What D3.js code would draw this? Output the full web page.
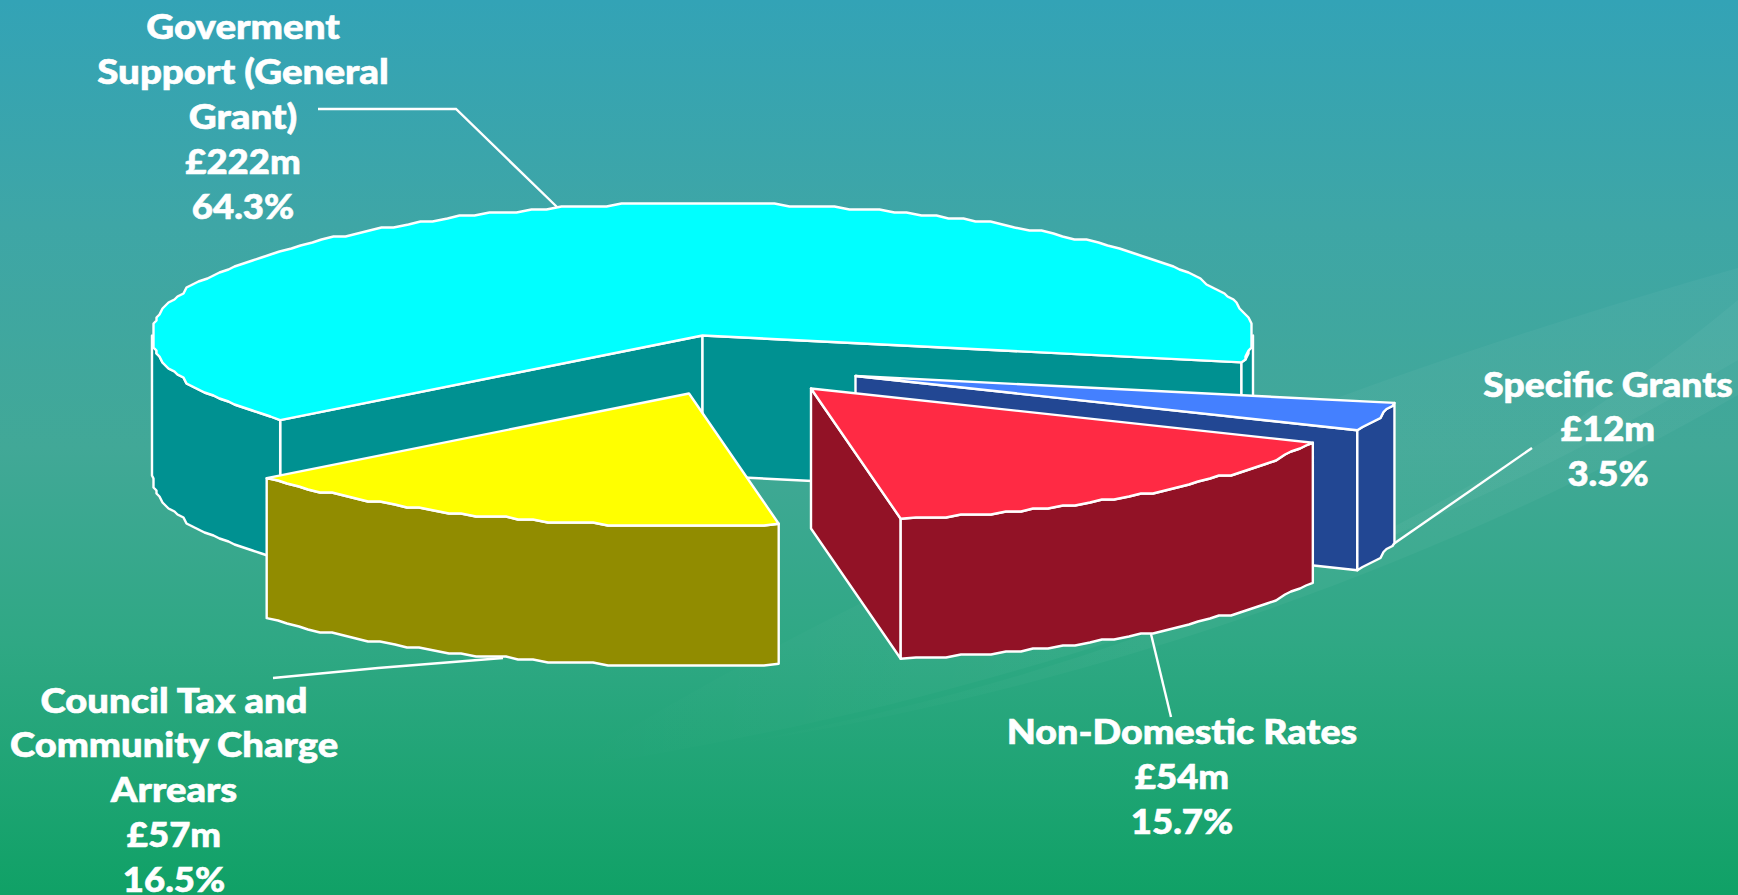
<!DOCTYPE html>
<html>
<head>
<meta charset="utf-8">
<script src="https://cdn.jsdelivr.net/npm/d3@7"></script>
<style>
  html, body { margin: 0; padding: 0; overflow: hidden; }
  svg { display: block; }
</style>
</head>
<body>
<div id="container"></div>
<script>
/* DATA */
const categories = ["Goverment Support (General Grant)", "Specific Grants", "Non-Domestic Rates", "Council Tax and Community Charge Arrears"];
const values = [222, 12, 54, 57];
const amounts = ["£222m", "£12m", "£54m", "£57m"];
const percents = ["64.3%", "3.5%", "15.7%", "16.5%"];
const wrappedNames = [
  ["Goverment", "Support (General", "Grant)"],
  ["Specific Grants"],
  ["Non-Domestic Rates"],
  ["Council Tax and", "Community Charge", "Arrears"]
];

/* CONSTANTS AND GLOBALS */
const width = 1738;
const height = 895;
const center = { x: 702.5, y: 335.5 };
const rx = 550.5;
const ry = 132;
const depth = 140;
const firstAngle = 230.1; // degrees clockwise from 12 o'clock, where the first slice starts
const rimStep = 1.6; // degrees between outline points, the original outline is coarse
const snap = 3;      // and its points sit on a rough grid

// how far each slice is pulled out, same order as categories
const explode = [[0, 0], [153, 40.5], [108.5, 53], [-13.5, 58]];
const topColors = ["#00ffff", "#4480ff", "#ff2a44", "#ffff00"];
const sideColors = ["#009191", "#224793", "#921226", "#918c00"];
const drawOrder = [0, 3, 1, 2];

// label placement: centre x, baseline of first line
const labelPos = [[243, 39], [1608, 396.5], [1182, 744], [174, 712.5]];
const lineGap = 44.9;
const nameStretch = [1.15, 1.11, 1.125, 1.14];
const numberStretch = 1.09;

const leaders = [
  [[318, 109], [456, 109], [557, 207]],
  [[1532, 448], [1392, 545]],
  [[1151, 634], [1171, 717]],
  [[273, 678], [378, 668], [503, 658]]
];

/* SCALES */
const xScale = d3.scaleLinear().domain([-1, 1]).range([-rx, rx]);
const yScale = d3.scaleLinear().domain([-1, 1]).range([-ry, ry]);

const pie = d3.pie()
  .sort(null)
  .startAngle(firstAngle * Math.PI / 180)
  .endAngle((firstAngle + 360) * Math.PI / 180);

const arcs = pie(values);

/* HELPERS */
const line = d3.line();

function onRim(t) {
  return [xScale(Math.cos(t)), yScale(Math.sin(t))];
}

// points along the rim between two angles, stepped like the original
function rim(a, b) {
  const pts = [onRim(a)];
  const n = Math.max(2, Math.round((b - a) / (rimStep * Math.PI / 180)));
  for (let i = 1; i < n; i++) {
    const p = onRim(a + (b - a) * i / n);
    pts.push([Math.round(p[0] / snap) * snap, Math.round(p[1] / snap) * snap]);
  }
  pts.push(onRim(b));
  return pts;
}

const down = p => [p[0], p[1] + depth];

/* HTML ELEMENTS */
const svg = d3.select("#container")
  .append("svg")
  .attr("width", width)
  .attr("height", height);

const defs = svg.append("defs");

// background
const grad = defs.append("linearGradient")
  .attr("id", "bg")
  .attr("x1", 0).attr("y1", 0).attr("x2", 0).attr("y2", 1);
[[0, "#33a3b6"], [0.25, "#3ea6a6"], [0.5, "#41a897"], [0.72, "#2fa884"], [1, "#10a166"]].forEach(s => {
  grad.append("stop").attr("offset", s[0]).attr("stop-color", s[1]);
});
svg.append("rect").attr("width", width).attr("height", height).attr("fill", "url(#bg)");

// faint swooshes, they fade out towards the left
const fade = defs.append("linearGradient")
  .attr("id", "fade")
  .attr("x1", 0).attr("y1", 0).attr("x2", 1).attr("y2", 0);
fade.append("stop").attr("offset", 0).attr("stop-color", "#fff").attr("stop-opacity", 0);
fade.append("stop").attr("offset", 0.45).attr("stop-color", "#fff").attr("stop-opacity", 1);

const swooshes = [
  "M560,770 C950,710 1350,590 1738,360 L1738,268 C1450,350 1000,500 560,770 Z",
  "M700,750 C1100,680 1450,540 1738,300 L1738,395 C1450,560 1100,690 700,750 Z"
];
svg.selectAll(".swoosh")
  .data(swooshes)
  .join("path")
  .attr("class", "swoosh")
  .attr("d", d => d)
  .attr("fill", "url(#fade)")
  .attr("opacity", 0.035);

// leader lines
svg.selectAll(".leader")
  .data(leaders)
  .join("path")
  .attr("class", "leader")
  .attr("d", d => line(d))
  .attr("fill", "none")
  .attr("stroke", "#fff")
  .attr("stroke-width", 2.4);

// slices
drawOrder.forEach(i => {
  const d = arcs[i];
  const a = d.startAngle - Math.PI / 2;
  const b = d.endAngle - Math.PI / 2;
  const g = svg.append("g")
    .attr("transform", `translate(${center.x + explode[i][0]},${center.y + explode[i][1]})`);

  const wall = pts => g.append("path")
    .attr("d", line(pts.concat(pts.map(down).reverse())) + "Z")
    .attr("fill", sideColors[i])
    .attr("stroke", "#fff")
    .attr("stroke-width", 2.4)
    .attr("stroke-linejoin", "round");

  // flat cut walls, only the ones facing the viewer
  if (Math.cos(a) < 0) wall([[0, 0], onRim(a)]);
  if (Math.cos(b) > 0) wall([[0, 0], onRim(b)]);

  // outer wall, only the front half of the rim
  [0, 1, 2].forEach(k => {
    const lo = Math.max(a, k * 2 * Math.PI);
    const hi = Math.min(b, k * 2 * Math.PI + Math.PI);
    if (hi > lo) wall(rim(lo, hi));
  });

  // top face
  g.append("path")
    .attr("d", line([[0, 0]].concat(rim(a, b))) + "Z")
    .attr("fill", topColors[i])
    .attr("stroke", "#fff")
    .attr("stroke-width", 2.4)
    .attr("stroke-linejoin", "round");
});

// labels, one text per line
categories.forEach((c, i) => {
  const names = wrappedNames[i];
  const lines = names.concat([amounts[i], percents[i]]);
  svg.selectAll(null)
    .data(lines)
    .join("text")
    .attr("class", "label")
    .attr("text-anchor", "middle")
    .attr("transform", (d, j) => {
      const sx = j < names.length ? nameStretch[i] : numberStretch;
      return `translate(${labelPos[i][0]},${labelPos[i][1] + j * lineGap}) scale(${sx},1)`;
    })
    .attr("font-family", "Lato, 'Open Sans', sans-serif")
    .attr("font-weight", 900)
    .attr("font-size", 33.5)
    .attr("fill", "#fff")
    .attr("stroke", "#fff")
    .attr("stroke-width", 0.6)
    .text(d => d);
});
</script>
</body>
</html>
